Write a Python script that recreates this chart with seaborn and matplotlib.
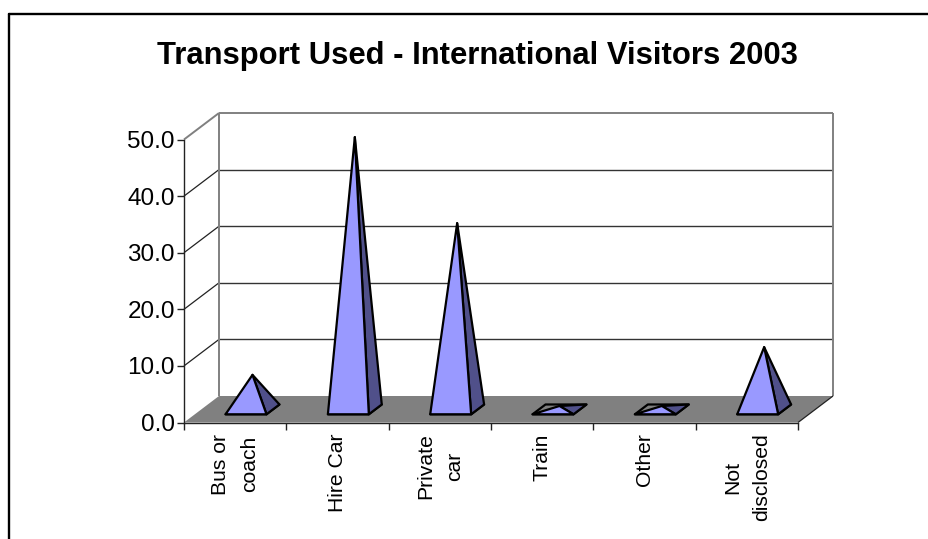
import numpy as np
import pandas as pd
import seaborn as sns
import matplotlib.pyplot as plt
from matplotlib.lines import Line2D

categories = ['Bus or\ncoach', 'Hire Car', 'Private\ncar', 'Train', 'Other', 'Not\ndisclosed']
values = [6.1, 48.1, 32.9, 0.6, 0.6, 11.0]
y_ticks = [0, 10, 20, 30, 40, 50]
title = 'Transport Used - International Visitors 2003'

sns.set_theme(style='white')
plt.rcParams['font.family'] = ['Liberation Sans', 'DejaVu Sans']

W, H = 929, 539
fig = plt.figure(figsize=(W / 100, H / 100), dpi=100)
ax = fig.add_axes([184 / W, (H - 422.5) / H, 614 / W, 283 / H])

df = pd.DataFrame({'cat': categories, 'val': values})
# bars only give the positions, the pyramids get built from them
sns.barplot(data=df, x='cat', y='val', width=0.4, ax=ax, errorbar=None)
bars = list(ax.patches)
ax.set_xlim(-0.5, 5.5)
ax.set_ylim(0, 50)
ax.set_xlabel('')
ax.set_ylabel('')

# oblique projection of the depth axis, in data units
DX = 35 / 102.33
DY = 26.5 / 5.66


def proj(x, y, d):
    return x + d * DX, y + d * DY


def poly(pts, **kw):
    xs, ys = zip(*pts)
    ax.fill(xs, ys, clip_on=False, **kw)


def line(a, b, color, lw=1.0, z=1):
    ax.plot([a[0], b[0]], [a[1], b[1]], color=color, lw=lw, clip_on=False,
            solid_capstyle='butt', zorder=z)


# walls and floor
poly([proj(-0.5, 0, 0), proj(5.5, 0, 0), proj(5.5, 0, 1), proj(-0.5, 0, 1)],
     color='#808080', lw=0, zorder=1)
for t in y_ticks[1:-1]:
    line(proj(-0.5, t, 0), proj(-0.5, t, 1), '#222222', 0.9)
    line(proj(-0.5, t, 1), proj(5.5, t, 1), '#333333', 1.0)
line(proj(-0.5, 50, 0), proj(-0.5, 50, 1), '#808080', 1.4)
line(proj(-0.5, 50, 1), proj(5.5, 50, 1), '#808080', 1.4)
line(proj(-0.5, 0, 1), proj(-0.5, 50, 1), '#808080', 1.4)
line(proj(5.5, 0, 1), proj(5.5, 50, 1), '#808080', 1.4)
line(proj(5.5, 0, 0), proj(5.5, 0, 1), '#222222', 0.9)

# pyramids
FRONT, BACK = 0.31, 0.68
MID = (FRONT + BACK) / 2
for p in bars:
    x0, x1, v = p.get_x(), p.get_x() + p.get_width(), p.get_height()
    p.set_visible(False)
    fl, fr = proj(x0, 0, FRONT), proj(x1, 0, FRONT)
    bl, br = proj(x0, 0, BACK), proj(x1, 0, BACK)
    top = proj((x0 + x1) / 2, v, MID)
    style = dict(edgecolor='black', lw=1.6, joinstyle='round', zorder=3)
    poly([fl, fr, br, bl], facecolor='#808080', **style)
    poly([fr, br, top], facecolor='#50508A', **style)
    poly([fl, fr, top], facecolor='#9999FF', **style)

# axes
sns.despine(ax=ax)
for s in ['left', 'bottom']:
    ax.spines[s].set_color('#222222')
    ax.spines[s].set_linewidth(1.0)
    ax.spines[s].set_zorder(2)
ax.set_yticks(y_ticks)
ax.set_yticklabels([f'{t:.1f}' for t in y_ticks], fontsize=17.5, color='black')
ax.set_xticks(np.arange(-0.5, 6, 1))
ax.set_xticklabels([])
ax.set_xticks(np.arange(6), minor=True)
ax.set_xticklabels(categories, minor=True, rotation=90, fontsize=15.2,
                   color='black', ha='center', va='top', multialignment='center',
                   linespacing=1.65)
ax.tick_params(axis='both', which='major', length=5, width=1.0, color='#222222',
               left=True, bottom=True, pad=1.5)
ax.tick_params(axis='x', which='minor', length=0, bottom=False, pad=8)

fig.text(477 / W, 1 - 56 / H, title, fontsize=22.3, fontweight='bold', color='black',
         ha='center', va='center')

# chart border, only left and top show in the crop
for xs, ys in [([8.5, 8.5], [H, 13.5]), ([8.5, W], [13.5, 13.5])]:
    fig.add_artist(Line2D([x / W for x in xs], [1 - y / H for y in ys],
                          color='black', lw=1.7))

fig.savefig('out.png', dpi=100)
